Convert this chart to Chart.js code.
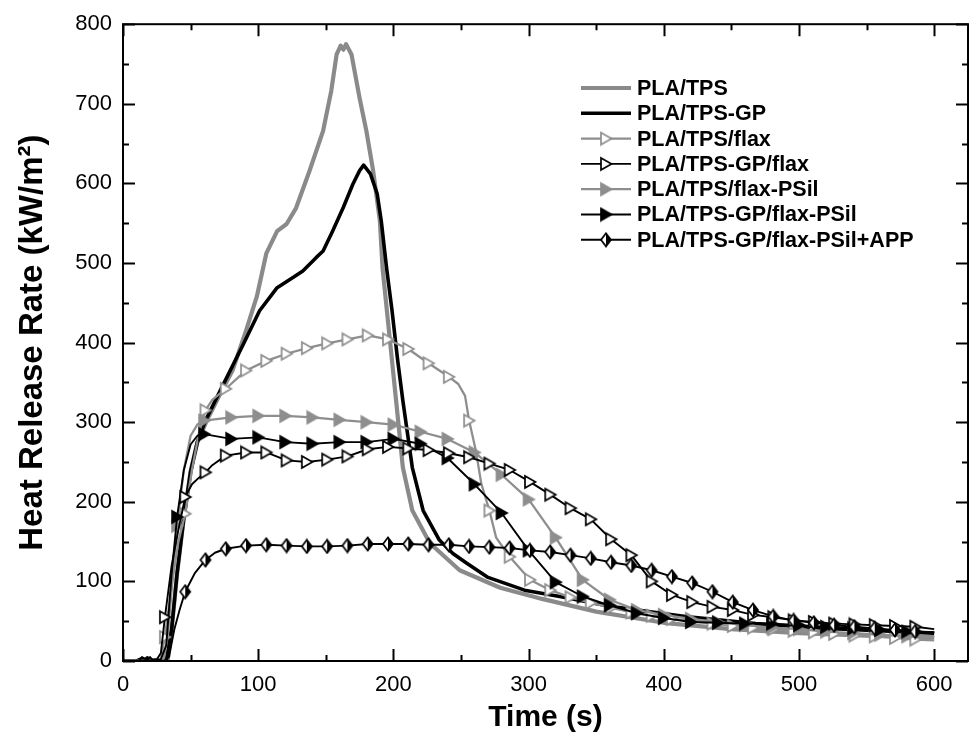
<!DOCTYPE html>
<html>
<head>
<meta charset="utf-8">
<script src="https://cdn.jsdelivr.net/npm/chart.js@4.4.1/dist/chart.umd.min.js"></script>
<style>
  html, body { margin: 0; padding: 0; background: #fff; }
  #wrap { width: 970px; height: 743px; }
</style>
</head>
<body>
<div id="wrap"><canvas id="c" width="970" height="743"></canvas></div>
<script>
// ---------------- DATA ----------------
const seriesNames = [
  'PLA/TPS',
  'PLA/TPS-GP',
  'PLA/TPS/flax',
  'PLA/TPS-GP/flax',
  'PLA/TPS/flax-PSil',
  'PLA/TPS-GP/flax-PSil',
  'PLA/TPS-GP/flax-PSil+APP'
];

const xTickLabels = [0, 100, 200, 300, 400, 500, 600];
const yTickLabels = [0, 100, 200, 300, 400, 500, 600, 700, 800];

// PLA/TPS
const tpsTime = [0,10,20,30,33,36,40,45,50,55,62,72,81,91,99,106,114,121,128,138,148,154,158,161,163,165,169,175,180,185,190,192,197,202,207,214,227,249,279,310,350,400,450,500,550,600];
const tpsHRR  = [0,0,1,1,0,40,110,180,238,275,302,336,365,415,458,512,540,549,569,616,666,716,762,773,768,775,762,707,666,616,553,493,410,327,243,189,148,114,92,78,62,48,40,35,32,30];

// PLA/TPS-GP
const gpTime = [0,10,14,16,18,20,24,28,32,36,40,45,50,55,61,72,89,101,114,126,133,143,148,155,163,170,175,178,183,188,191,195,199,203,207,214,222,234,244,254,270,297,323,363,416,468,521,600];
const gpHRR  = [0,0,3,1,4,0,1,0,1,40,110,180,238,275,302,340,398,440,469,482,490,507,515,540,570,599,616,623,612,587,553,493,440,380,327,243,189,152,135,123,105,89,81,68,56,47,41,35];

// PLA/TPS/flax
const flaxTime = [0,10,20,26,28,31,36,41,46,51,56,61,66,76,91,106,121,136,151,166,181,196,211,226,241,248,253,256,261,265,271,276,286,301,316,331,346,361,376,391,406,421,436,451,466,481,496,511,526,541,556,571,586,600];
const flaxHRR  = [0,0,0,1,3,30,95,150,185,240,285,315,328,342,365,377,386,393,399,404,409,404,392,374,357,348,333,302,264,223,189,155,131,102,89,80,73,67,61,57,53,50,47,44,42,40,38,36,34,32,31,29,27,26];

// PLA/TPS-GP/flax
const gpFlaxTime = [0,10,12,14,16,18,20,22,25,28,31,36,41,46,51,56,61,66,76,91,106,121,136,151,166,181,196,211,226,241,256,271,286,301,316,331,346,361,376,391,406,421,436,451,466,481,496,511,526,541,556,571,586,600];
const gpFlaxHRR  = [0,0,0,5,3,1,5,1,2,10,55,120,165,206,222,230,237,246,258,262,262,252,250,253,257,266,269,267,265,261,256,248,240,225,209,192,178,153,133,100,83,74,68,64,58,55,51,49,47,46,45,44,43,40];

// PLA/TPS/flax-PSil
const psilTime = [0,10,20,30,33,37,40,45,50,55,60,80,100,120,140,160,180,200,220,240,260,280,300,320,340,360,380,400,420,440,460,480,500,520,540,560,580,600];
const psilHRR  = [0,0,0,1,30,110,170,240,283,297,302,306,308,308,306,303,300,297,288,279,262,234,203,155,102,77,64,58,53,49,45,42,40,37,35,33,31,30];

// PLA/TPS-GP/flax-PSil
const gpPsilTime = [0,10,20,28,32,36,40,45,50,55,60,80,100,120,140,160,180,200,220,240,260,280,300,320,340,360,380,400,420,440,460,480,500,520,540,560,580,600];
const gpPsilHRR  = [0,0,0,2,20,110,181,240,272,283,285,279,281,275,273,275,275,279,273,255,222,186,139,99,81,70,60,54,49,48,47,47,45,43,41,39,37,36];

// PLA/TPS-GP/flax-PSil+APP
const appTime = [0,10,20,30,34,38,42,46,53,61,68,76,91,106,121,136,151,166,181,196,211,226,241,256,271,286,301,316,331,346,361,376,391,406,421,436,451,466,481,496,511,526,541,556,571,586,600];
const appHRR  = [0,0,0,0,5,40,65,87,110,127,136,141,145,146,145,144,144,145,147,147,147,146,146,144,143,142,139,137,133,129,124,120,114,106,98,87,74,64,56,51,48,45,43,41,39,37,36];

// ---------------- helpers ----------------
Chart.defaults.font.family = "'Liberation Sans', Arial, Helvetica, sans-serif";
Chart.defaults.color = '#000';

const GRAY = '#8a8a8a';
const GRAY_THIN = '#8e8e8e';

function pts(t, v) { return t.map((x, i) => ({ x: x, y: v[i] })); }

function makeMarker(kind, color) {
  const c = document.createElement('canvas');
  c.width = 16; c.height = 16;
  const g = c.getContext('2d');
  g.lineWidth = 1.7;
  g.lineJoin = 'miter';
  g.strokeStyle = color;
  if (kind === 'openTri' || kind === 'fillTri') {
    g.beginPath();
    g.moveTo(3, 2); g.lineTo(13.5, 8); g.lineTo(3, 14); g.closePath();
    g.fillStyle = kind === 'openTri' ? '#fff' : color;
    g.fill(); g.stroke();
  } else {
    g.beginPath(); g.moveTo(8, 1.5); g.lineTo(3, 8); g.lineTo(8, 14.5); g.closePath();
    g.fillStyle = '#fff'; g.fill();
    g.beginPath(); g.moveTo(8, 1.5); g.lineTo(13, 8); g.lineTo(8, 14.5); g.closePath();
    g.fillStyle = color; g.fill();
    g.beginPath(); g.moveTo(8, 1.5); g.lineTo(13, 8); g.lineTo(8, 14.5); g.lineTo(3, 8); g.closePath();
    g.stroke();
  }
  return c;
}

// marker placement: every 15 s starting at 31 s, or every 20 s starting at 40 s
const mark15 = (min) => (ctx) => { const x = ctx.raw && ctx.raw.x; return (x >= min && x < 600 && (x - 31) % 15 === 0) ? 6 : 0; };
const mark20 = (min) => (ctx) => { const x = ctx.raw && ctx.raw.x; return (x >= min && x < 600 && x % 20 === 0) ? 6 : 0; };

const mk = {
  openGray: makeMarker('openTri', GRAY_THIN),
  openBlack: makeMarker('openTri', '#000'),
  fillGray: makeMarker('fillTri', GRAY_THIN),
  fillBlack: makeMarker('fillTri', '#000'),
  diamond: makeMarker('diamond', '#000')
};

const datasets = [
  { label: seriesNames[0], data: pts(tpsTime, tpsHRR), borderColor: GRAY, borderWidth: 4.2, pointRadius: 0, order: 7 },
  { label: seriesNames[1], data: pts(gpTime, gpHRR), borderColor: '#000', borderWidth: 3.6, pointRadius: 0, order: 6 },
  { label: seriesNames[2], data: pts(flaxTime, flaxHRR), borderColor: GRAY_THIN, borderWidth: 2.3, pointRadius: mark15(31), pointStyle: mk.openGray, order: 5, _marker: mk.openGray },
  { label: seriesNames[3], data: pts(gpFlaxTime, gpFlaxHRR), borderColor: '#000', borderWidth: 1.9, pointRadius: mark15(31), pointStyle: mk.openBlack, order: 2, _marker: mk.openBlack },
  { label: seriesNames[4], data: pts(psilTime, psilHRR), borderColor: GRAY_THIN, borderWidth: 2.3, pointRadius: mark20(40), pointStyle: mk.fillGray, order: 4, _marker: mk.fillGray },
  { label: seriesNames[5], data: pts(gpPsilTime, gpPsilHRR), borderColor: '#000', borderWidth: 1.9, pointRadius: mark20(40), pointStyle: mk.fillBlack, order: 3, _marker: mk.fillBlack },
  { label: seriesNames[6], data: pts(appTime, appHRR), borderColor: '#000', borderWidth: 1.9, pointRadius: mark15(46), pointStyle: mk.diamond, order: 1, _marker: mk.diamond }
];
datasets.forEach(d => { d.fill = false; d.tension = 0; d.pointHoverRadius = 0; d.borderJoinStyle = 'round'; });

// frame + inward ticks on all four sides
const framePlugin = {
  id: 'frame',
  afterDatasetsDraw(chart) {
    const { ctx, chartArea: a, scales } = chart;
    const xs = scales.x, ys = scales.y;
    ctx.save();
    ctx.strokeStyle = '#000';
    ctx.lineWidth = 2;
    ctx.strokeRect(a.left, a.top, a.right - a.left, a.bottom - a.top);
    ctx.beginPath();
    for (let v = 0; v <= 600; v += 50) {
      const px = Math.round(xs.getPixelForValue(v)) + 0.5;
      const L = (v % 100 === 0) ? 12 : 6;
      ctx.moveTo(px, a.bottom); ctx.lineTo(px, a.bottom - L);
      ctx.moveTo(px, a.top); ctx.lineTo(px, a.top + L);
    }
    for (let v = 0; v <= 800; v += 50) {
      const py = Math.round(ys.getPixelForValue(v)) + 0.5;
      const L = (v % 100 === 0) ? 12 : 6;
      ctx.moveTo(a.left, py); ctx.lineTo(a.left + L, py);
      ctx.moveTo(a.right, py); ctx.lineTo(a.right - L, py);
    }
    ctx.stroke();
    ctx.restore();
  }
};

// legend inside plot
const legendPlugin = {
  id: 'insideLegend',
  afterDraw(chart) {
    const ctx = chart.ctx;
    const x0 = 581, x1 = 631, tx = 637, y0 = 88, dy = 25.3;
    ctx.save();
    ctx.font = "bold 21.5px 'Liberation Sans', Arial, sans-serif";
    ctx.textBaseline = 'middle';
    ctx.textAlign = 'left';
    chart.data.datasets.forEach((d, i) => {
      const y = y0 + i * dy;
      ctx.strokeStyle = d.borderColor;
      ctx.lineWidth = d.borderWidth;
      ctx.beginPath(); ctx.moveTo(x0, y); ctx.lineTo(x1, y); ctx.stroke();
      if (d._marker) {
        const m = d._marker;
        ctx.drawImage(m, (x0 + x1) / 2 - m.width / 2, y - m.height / 2);
      }
      ctx.fillStyle = '#000';
      ctx.fillText(d.label, tx, y + 1);
    });
    ctx.restore();
  }
};

new Chart(document.getElementById('c').getContext('2d'), {
  type: 'line',
  data: { datasets },
  options: {
    responsive: false,
    animation: false,
    parsing: true,
    layout: { padding: { top: 23, right: 2, left: 0, bottom: 0 } },
    scales: {
      x: {
        type: 'linear', min: 0, max: 625,
        afterBuildTicks(s) { s.ticks = xTickLabels.map(v => ({ value: v })); },
        ticks: { font: { size: 22 }, color: '#000', padding: 11, maxRotation: 0, autoSkip: false, includeBounds: false },
        grid: { display: false, drawTicks: false },
        border: { display: false },
        title: { display: true, text: 'Time (s)', font: { size: 30, weight: 'bold', lineHeight: 1 }, color: '#000', padding: { top: 0, bottom: 10 } },
        afterFit(s) { s.height = 82; }
      },
      y: {
        type: 'linear', min: 0, max: 800,
        afterBuildTicks(s) { s.ticks = yTickLabels.map(v => ({ value: v })); },
        ticks: { font: { size: 22 }, color: '#000', padding: 11, autoSkip: false, includeBounds: false },
        grid: { display: false, drawTicks: false },
        border: { display: false },
        title: { display: true, text: 'Heat Release Rate (kW/m²)', font: { size: 33, weight: 'bold', lineHeight: 1 }, color: '#000', padding: { top: 16, bottom: 0 } },
        afterFit(s) { s.width = 123; }
      }
    },
    plugins: { legend: { display: false }, tooltip: { enabled: false } }
  },
  plugins: [framePlugin, legendPlugin]
});
</script>
</body>
</html>
